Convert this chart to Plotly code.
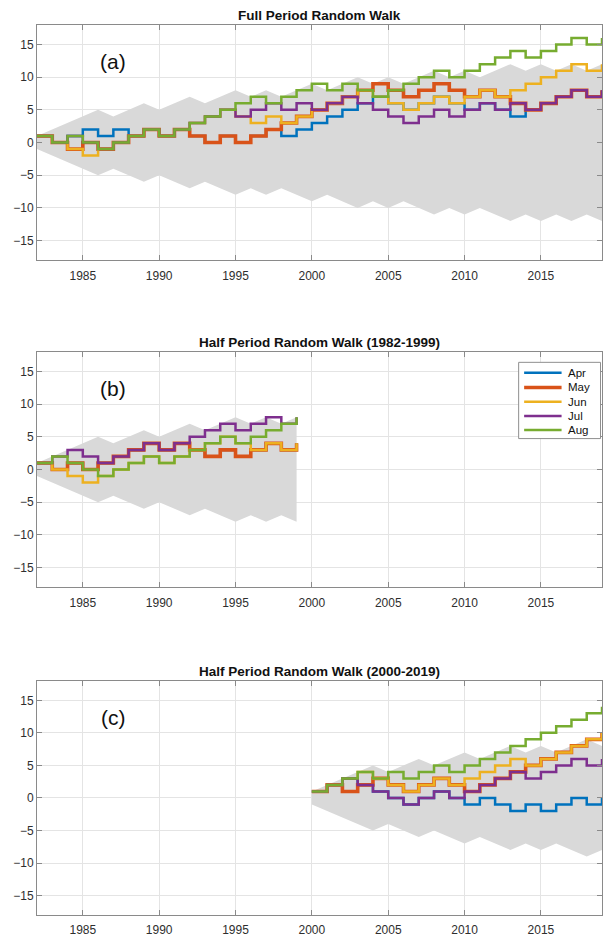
import plotly.graph_objects as go

# ---------------------------------------------------------------------------
# Data: cumulative +/-1 random walks per month and the 95% envelope
# ---------------------------------------------------------------------------
MONTHS = ["Apr", "May", "Jun", "Jul", "Aug"]
COLORS = {"Apr": "#0072BD", "May": "#D95319", "Jun": "#EDB120",
          "Jul": "#7E2F8E", "Aug": "#77AC30"}
WIDTHS = {"Apr": 2.5, "May": 3.6, "Jun": 2.5, "Jul": 2.5, "Aug": 2.5}

# (a) full period 1982-2019
years_full = list(range(1982, 2020))
full_apr = [1, 0, 1, 2, 1, 2, 1, 2, 1, 2, 1, 0, 1, 0, 1, 2, 1, 2, 3, 4,
            5, 6, 7, 6, 5, 6, 7, 6, 5, 6, 5, 4, 5, 6, 7, 8, 7, 8]
full_may = [1, 0, -1, 0, -1, 0, 1, 2, 1, 2, 1, 0, 1, 0, 1, 2, 3, 4, 5, 6,
            7, 8, 9, 8, 7, 8, 9, 8, 7, 8, 7, 6, 5, 6, 7, 8, 7, 8]
full_jun = [1, 0, -1, -2, -1, 0, 1, 2, 1, 2, 3, 4, 5, 4, 3, 4, 3, 4, 5, 6,
            7, 8, 7, 6, 5, 6, 7, 6, 7, 8, 7, 8, 9, 10, 11, 12, 11, 12]
full_jul = [1, 0, 1, 0, -1, 0, 1, 2, 1, 2, 3, 4, 5, 4, 5, 6, 5, 6, 5, 6,
            7, 6, 5, 4, 3, 4, 5, 4, 5, 6, 5, 6, 5, 6, 7, 8, 7, 8]
full_aug = [1, 0, 1, 0, -1, 0, 1, 2, 1, 2, 3, 4, 5, 6, 7, 6, 7, 8, 9, 8,
            9, 8, 7, 8, 9, 10, 11, 10, 11, 12, 13, 14, 13, 14, 15, 16, 15, 16]
full_upper = [1, 2, 3, 4, 5, 4, 5, 6, 5, 6, 7, 6, 7, 8, 7, 8, 7, 8, 9, 8,
              9, 10, 9, 10, 9, 10, 11, 10, 11, 10, 11, 12, 11, 12, 11, 12, 11, 12]
full_lower = [-1, -2, -3, -4, -5, -4, -5, -6, -5, -6, -7, -6, -7, -8, -7, -8, -7, -8, -9, -8,
              -9, -10, -9, -10, -9, -10, -11, -10, -11, -10, -11, -12, -11, -12, -11, -12, -11, -12]

# (b) first half 1982-1999
years_h1 = list(range(1982, 2000))
h1_apr = [1, 0, 1, 0, 1, 2, 3, 4, 3, 4, 3, 2, 3, 2, 3, 4, 3, 4]
h1_may = [1, 0, 1, 0, 1, 2, 3, 4, 3, 4, 3, 2, 3, 2, 3, 4, 3, 4]
h1_jun = [1, 0, -1, -2, -1, 0, 1, 2, 1, 2, 3, 4, 5, 4, 3, 4, 3, 4]
h1_jul = [1, 2, 3, 2, 1, 2, 3, 4, 3, 4, 5, 6, 7, 6, 7, 8, 7, 8]
h1_aug = [1, 2, 1, 0, -1, 0, 1, 2, 1, 2, 3, 4, 5, 4, 5, 6, 7, 8]
h1_upper = [1, 2, 3, 4, 5, 4, 5, 6, 5, 6, 7, 6, 7, 8, 7, 8, 7, 8]
h1_lower = [-1, -2, -3, -4, -5, -4, -5, -6, -5, -6, -7, -6, -7, -8, -7, -8, -7, -8]

# (c) second half 2000-2019
years_h2 = list(range(2000, 2020))
h2_apr = [1, 2, 3, 2, 1, 0, -1, 0, 1, 0, -1, 0, -1, -2, -1, -2, -1, 0, -1, 0]
h2_may = [1, 2, 1, 2, 3, 2, 1, 2, 3, 2, 1, 2, 3, 4, 5, 6, 7, 8, 9, 10]
h2_jun = [1, 2, 3, 4, 3, 2, 1, 2, 3, 2, 3, 4, 5, 6, 5, 6, 7, 8, 9, 10]
h2_jul = [1, 2, 3, 2, 1, 0, -1, 0, 1, 0, 1, 2, 3, 4, 3, 4, 5, 6, 5, 6]
h2_aug = [1, 2, 3, 4, 3, 4, 3, 4, 5, 4, 5, 6, 7, 8, 9, 10, 11, 12, 13, 14]
h2_upper = [1, 2, 3, 4, 5, 4, 5, 6, 5, 6, 7, 6, 7, 8, 7, 8, 7, 8, 9, 8]
h2_lower = [-1, -2, -3, -4, -5, -4, -5, -6, -5, -6, -7, -6, -7, -8, -7, -8, -7, -8, -9, -8]

x_ticks = [1985, 1990, 1995, 2000, 2005, 2010, 2015]
y_ticks = [-15, -10, -5, 0, 5, 10, 15]

panels = [
    dict(title="Full Period Random Walk", tag="(a)", years=years_full,
         series=dict(Apr=full_apr, May=full_may, Jun=full_jun, Jul=full_jul, Aug=full_aug),
         upper=full_upper, lower=full_lower),
    dict(title="Half Period Random Walk (1982-1999)", tag="(b)", years=years_h1,
         series=dict(Apr=h1_apr, May=h1_may, Jun=h1_jun, Jul=h1_jul, Aug=h1_aug),
         upper=h1_upper, lower=h1_lower),
    dict(title="Half Period Random Walk (2000-2019)", tag="(c)", years=years_h2,
         series=dict(Apr=h2_apr, May=h2_may, Jun=h2_jun, Jul=h2_jul, Aug=h2_aug),
         upper=h2_upper, lower=h2_lower),
]

# ---------------------------------------------------------------------------
# Layout geometry (pixels of a 603 x 937 canvas)
# ---------------------------------------------------------------------------
W, H = 603, 937
LEFT = 37
panel_px = [(25, 261), (353, 589), (683, 918)]   # top, bottom of each axes box


def py(p):
    """pixel row -> paper y"""
    return 1 - p / H


def px(p):
    """pixel column -> paper x"""
    return (p - LEFT) / (W - LEFT)


FONT = "Liberation Sans, Arial, Helvetica, sans-serif"
AXIS_GREY = "#8a8a8a"
GRID_GREY = "#e4e4e4"
TEXT = "#2e2e2e"

fig = go.Figure()
layout = dict(
    width=W, height=H, autosize=False,
    margin=dict(l=LEFT, r=0, t=0, b=0),
    paper_bgcolor="white", plot_bgcolor="white",
    showlegend=False,
    font=dict(family=FONT, size=12, color=TEXT),
    annotations=[], shapes=[],
)

for i, p in enumerate(panels, start=1):
    xa = "x" if i == 1 else f"x{i}"
    ya = "y" if i == 1 else f"y{i}"
    yrs = p["years"]

    # shaded envelope
    fig.add_trace(go.Scatter(
        x=yrs + yrs[::-1], y=p["upper"] + p["lower"][::-1],
        fill="toself", fillcolor="rgb(217,217,217)",
        line=dict(width=0), mode="lines", hoverinfo="skip",
        xaxis=xa, yaxis=ya))

    # monthly stair lines
    for m in MONTHS:
        fig.add_trace(go.Scatter(
            x=yrs, y=p["series"][m], mode="lines", name=m,
            line=dict(color=COLORS[m], width=WIDTHS[m], shape="hv"),
            xaxis=xa, yaxis=ya))

    top, bot = panel_px[i - 1]
    axis_common = dict(
        showline=True, linecolor=AXIS_GREY, linewidth=1, mirror="ticks",
        ticks="inside", ticklen=5, tickcolor=AXIS_GREY, tickwidth=1,
        showgrid=True, gridcolor=GRID_GREY, gridwidth=1, zeroline=False,
        tickfont=dict(family=FONT, size=12, color=TEXT),
    )
    layout[f"xaxis{'' if i == 1 else i}"] = dict(
        axis_common, domain=[0, 1], range=[1982, 2019], tickvals=x_ticks,
        ticklabelstandoff=4, anchor=ya)
    layout[f"yaxis{'' if i == 1 else i}"] = dict(
        axis_common, domain=[py(bot), py(top)], range=[-18, 18],
        tickvals=y_ticks, anchor=xa)

    # panel title
    layout["annotations"].append(dict(
        text=f"<b>{p['title']}</b>", xref="paper", yref="paper",
        x=0.5, y=py(top - 9.5), xanchor="center", yanchor="middle",
        showarrow=False, font=dict(family=FONT, size=13.5, color="#111")))
    # panel tag
    layout["annotations"].append(dict(
        text=p["tag"], xref=xa, yref=ya, x=1987, y=12.4,
        xanchor="center", yanchor="middle", showarrow=False,
        font=dict(family=FONT, size=21, color="#111")))

# Legend drawn inside panel (b)
leg_left, leg_right, leg_top, leg_bot = 519.5, 601.5, 363.5, 440
layout["shapes"].append(dict(
    type="rect", xref="paper", yref="paper",
    x0=px(leg_left), x1=px(leg_right), y0=py(leg_bot), y1=py(leg_top),
    line=dict(color="#8f8f8f", width=1), fillcolor="white", layer="above"))
rows = [374, 388.7, 403, 417.3, 431.5]
for m, r in zip(MONTHS, rows):
    layout["shapes"].append(dict(
        type="line", xref="paper", yref="paper",
        x0=px(525), x1=px(562.5), y0=py(r), y1=py(r),
        line=dict(color=COLORS[m], width=WIDTHS[m]), layer="above"))
    layout["annotations"].append(dict(
        text=m, xref="paper", yref="paper", x=px(566.5), y=py(r),
        xanchor="left", yanchor="middle", showarrow=False,
        font=dict(family=FONT, size=11.5, color="#111")))

fig.update_layout(**layout)
fig.write_html("out.html")
